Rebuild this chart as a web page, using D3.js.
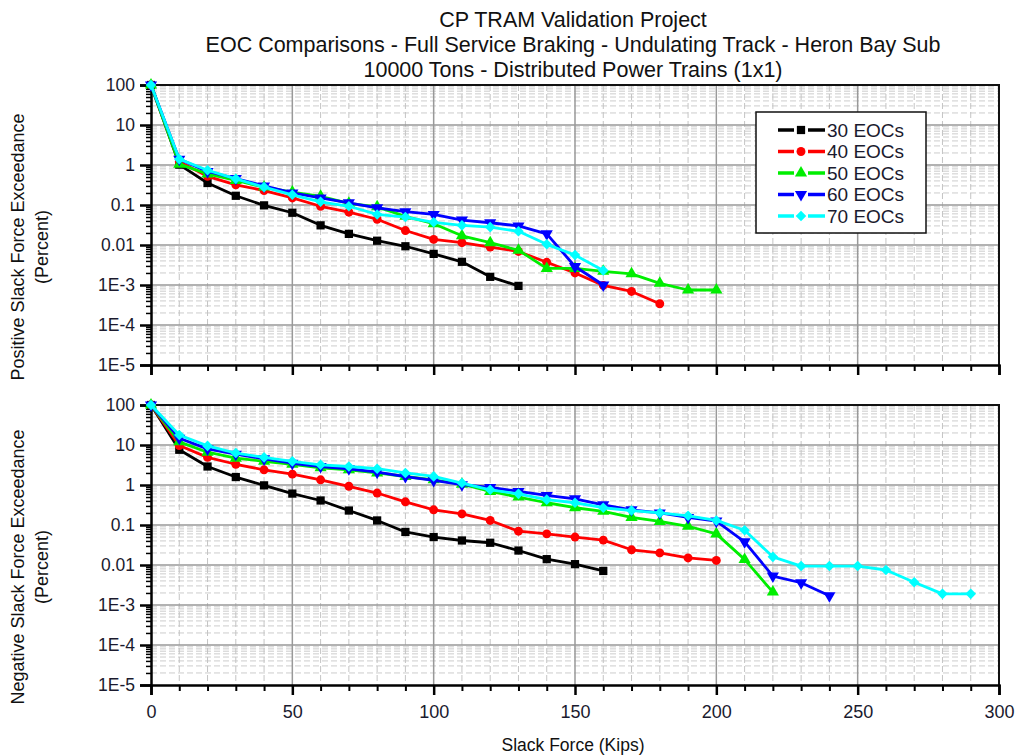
<!DOCTYPE html>
<html>
<head>
<meta charset="utf-8">
<script src="https://cdn.jsdelivr.net/npm/d3@7"></script>
<style>
  html, body { margin: 0; padding: 0; background: #fff; }
  svg { display: block; font-family: "Liberation Sans", Arial, sans-serif; }
</style>
</head>
<body>
<svg id="chart" width="1016" height="756"></svg>
<script>
// Slack force levels (kips) sampled every 10 kips
const kips = [0,10,20,30,40,50,60,70,80,90,100,110,120,130,140,150,160,170,180,190,200,210,220,230,240,250,260,270,280,290];

const seriesNames = ["30 EOCs", "40 EOCs", "50 EOCs", "60 EOCs", "70 EOCs"];
const seriesColors = ["#000000", "#ff0000", "#00ee00", "#0000ff", "#00ffff"];
const seriesSymbols = ["square", "circle", "triangle", "triangleDown", "diamond"];

// Positive slack force exceedance (percent)
const pos30 = [100, 1.02, 0.355, 0.17, 0.098, 0.064, 0.031, 0.019, 0.0128, 0.0093, 0.006, 0.0038, 0.0016, 0.00095];
const pos40 = [100, 1.2, 0.52, 0.32, 0.23, 0.15, 0.093, 0.066, 0.044, 0.023, 0.0138, 0.0114, 0.0089, 0.0069, 0.0037, 0.002, 0.00098, 0.00069, 0.00034];
const pos50 = [100, 1.05, 0.6, 0.41, 0.28, 0.21, 0.165, 0.11, 0.09, 0.052, 0.034, 0.017, 0.0114, 0.0074, 0.0026, 0.0026, 0.0022, 0.0019, 0.0011, 0.00075, 0.00075];
const pos60 = [100, 1.4, 0.69, 0.46, 0.30, 0.20, 0.15, 0.113, 0.085, 0.068, 0.058, 0.042, 0.036, 0.03, 0.019, 0.0029, 0.001];
const pos70 = [100, 1.4, 0.74, 0.45, 0.28, 0.18, 0.12, 0.093, 0.058, 0.05, 0.037, 0.031, 0.028, 0.022, 0.0104, 0.0056, 0.0023];

// Negative slack force exceedance (percent)
const neg30 = [100, 7.6, 2.9, 1.58, 0.98, 0.61, 0.41, 0.23, 0.13, 0.067, 0.05, 0.041, 0.036, 0.023, 0.014, 0.0105, 0.0071];
const neg40 = [100, 9.7, 4.9, 3.3, 2.4, 1.87, 1.35, 0.93, 0.63, 0.38, 0.24, 0.19, 0.13, 0.07, 0.06, 0.05, 0.042, 0.024, 0.02, 0.015, 0.013];
const neg50 = [100, 12, 6.6, 4.7, 3.9, 3.3, 2.7, 2.4, 2.0, 1.63, 1.35, 1.05, 0.69, 0.5, 0.36, 0.27, 0.22, 0.155, 0.123, 0.093, 0.06, 0.0138, 0.0021];
const neg60 = [100, 14.8, 8, 5.9, 4.5, 3.5, 2.9, 2.55, 2.1, 1.63, 1.3, 1.02, 0.87, 0.69, 0.55, 0.45, 0.32, 0.24, 0.2, 0.155, 0.125, 0.038, 0.0053, 0.0036, 0.0017];
const neg70 = [100, 17.8, 9.5, 6.3, 4.9, 3.9, 3.2, 2.9, 2.55, 2.0, 1.64, 1.12, 0.76, 0.6, 0.43, 0.36, 0.27, 0.23, 0.2, 0.17, 0.13, 0.074, 0.016, 0.0094, 0.0094, 0.0094, 0.0075, 0.0037, 0.0019, 0.0019];

const yTickValues = [100, 10, 1, 0.1, 0.01, 1e-3, 1e-4, 1e-5];
const yTickLabels = ["100", "10", "1", "0.1", "0.01", "1E-3", "1E-4", "1E-5"];
const xTickValues = [0, 50, 100, 150, 200, 250, 300];

const titleLines = [
  "CP TRAM Validation Project",
  "EOC Comparisons - Full Service Braking - Undulating Track - Heron Bay Sub",
  "10000 Tons - Distributed Power Trains (1x1)"
];

const svg = d3.select("#chart");
const left = 151, right = 999;
const textColor = "#1a1a2e";

const x = d3.scaleLinear().domain([0, 300]).range([left, right]);

// Title
svg.append("g").selectAll("text").data(titleLines).join("text")
  .attr("x", 573).attr("y", (d, i) => 27 + i * 25)
  .attr("text-anchor", "middle").attr("font-size", 21.5).attr("fill", "#111")
  .text(d => d);

// marker shapes; the diamond is a square turned 45 degrees
const symbolType = {
  square: d3.symbolSquare, circle: d3.symbolCircle, triangle: d3.symbolTriangle,
  triangleDown: d3.symbolTriangle, diamond: d3.symbolSquare
};
const symbolSize = { square: 68, circle: 62, triangle: 64, triangleDown: 64, diamond: 56 };
const symbolRotate = { triangleDown: 180, diamond: 45 };

function drawMarker(g, sym, color, cx, cy) {
  const rot = symbolRotate[sym] ? ` rotate(${symbolRotate[sym]})` : "";
  return g.append("path")
    .attr("d", d3.symbol().type(symbolType[sym]).size(symbolSize[sym])())
    .attr("fill", color)
    .attr("transform", `translate(${cx},${cy})` + rot);
}

function panel(top, bottom, seriesData, yTitle, showXLabels) {
  const y = d3.scaleLog().domain([1e-5, 100]).range([bottom, top]);
  const g = svg.append("g");

  // minor grid: horizontal (2..9 in each decade) and vertical every 10 kips
  const minorY = [];
  for (let e = -5; e < 2; e++) for (let m = 2; m <= 9; m++) minorY.push(m * Math.pow(10, e));
  const minorX = d3.range(10, 300, 10).filter(v => v % 50 !== 0);

  g.append("g").selectAll("line").data(minorY).join("line")
    .attr("x1", left).attr("x2", right)
    .attr("y1", d => y(d)).attr("y2", d => y(d))
    .attr("stroke", "#cccccc").attr("stroke-width", 1).attr("stroke-dasharray", "6,3");
  g.append("g").selectAll("line").data(minorX).join("line")
    .attr("x1", d => x(d)).attr("x2", d => x(d))
    .attr("y1", top).attr("y2", bottom)
    .attr("stroke", "#c4c4c4").attr("stroke-width", 1).attr("stroke-dasharray", "6,3");

  // major grid
  g.append("g").selectAll("line").data(yTickValues.slice(1, -1)).join("line")
    .attr("x1", left).attr("x2", right)
    .attr("y1", d => y(d)).attr("y2", d => y(d))
    .attr("stroke", "#999").attr("stroke-width", 1.5);
  g.append("g").selectAll("line").data(xTickValues.slice(1, -1)).join("line")
    .attr("x1", d => x(d)).attr("x2", d => x(d))
    .attr("y1", top).attr("y2", bottom)
    .attr("stroke", "#999").attr("stroke-width", 1.5);

  // frame (top and right)
  g.append("path")
    .attr("d", `M${left},${top}H${right}V${bottom}`)
    .attr("fill", "none").attr("stroke", "#111").attr("stroke-width", 2);

  // y axis: major and minor ticks
  const yAxis = d3.axisLeft(y).tickValues(yTickValues)
    .tickFormat((d, i) => yTickLabels[i]).tickSize(11).tickPadding(5);
  const ya = g.append("g").attr("transform", `translate(${left},0)`).call(yAxis);
  ya.select(".domain").attr("stroke-width", 2.5).attr("stroke", "#000");
  ya.selectAll(".tick line").attr("stroke-width", 2.5).attr("stroke", "#000");
  ya.selectAll(".tick text").attr("font-size", 17.5).attr("fill", textColor)
    .attr("font-family", "Liberation Sans, Arial, sans-serif");
  g.append("g").attr("transform", `translate(${left},0)`)
    .call(d3.axisLeft(y).tickValues(minorY).tickSize(5).tickFormat(""))
    .call(s => s.select(".domain").remove())
    .selectAll(".tick line").attr("stroke", "#000").attr("stroke-width", 1.5);

  // x axis: major and minor ticks
  const xAxis = d3.axisBottom(x).tickValues(xTickValues).tickSize(10).tickPadding(10)
    .tickFormat(showXLabels ? d3.format("d") : "");
  const xa = g.append("g").attr("transform", `translate(0,${bottom})`).call(xAxis);
  xa.select(".domain").attr("stroke-width", 2.5).attr("stroke", "#000");
  xa.selectAll(".tick line").attr("stroke-width", 2.5).attr("stroke", "#000");
  xa.selectAll(".tick text").attr("font-size", 18).attr("fill", textColor)
    .attr("font-family", "Liberation Sans, Arial, sans-serif");
  g.append("g").attr("transform", `translate(0,${bottom})`)
    .call(d3.axisBottom(x).tickValues(minorX).tickSize(6).tickFormat(""))
    .call(s => s.select(".domain").remove())
    .selectAll(".tick line").attr("stroke", "#000").attr("stroke-width", 2);

  // y axis title
  const cy = (top + bottom) / 2 + 22;
  const yt = g.append("text").attr("transform", `translate(24,${cy}) rotate(-90)`)
    .attr("text-anchor", "middle").attr("font-size", 18).attr("fill", "#111");
  yt.append("tspan").attr("x", 0).attr("dy", 0).text(yTitle);
  yt.append("tspan").attr("x", 0).attr("dy", 24).text("(Percent)");

  // series lines and markers
  const line = d3.line().x(d => x(d[0])).y(d => y(d[1]));
  seriesData.forEach((vals, s) => {
    const pts = vals.map((v, i) => [kips[i], v]);
    const sg = g.append("g");
    sg.append("path").datum(pts).attr("d", line)
      .attr("fill", "none").attr("stroke", seriesColors[s]).attr("stroke-width", 2.8)
      .attr("stroke-linejoin", "round");
    pts.forEach(p => drawMarker(sg, seriesSymbols[s], seriesColors[s], x(p[0]), y(p[1])));
  });
  return y;
}

panel(85, 365, [pos30, pos40, pos50, pos60, pos70], "Positive Slack Force Exceedance", false);
panel(405, 685, [neg30, neg40, neg50, neg60, neg70], "Negative Slack Force Exceedance", true);

// x axis title
svg.append("text").attr("x", 573).attr("y", 751).attr("text-anchor", "middle")
  .attr("font-size", 17.5).attr("fill", "#111").text("Slack Force (Kips)");

// legend
const lg = svg.append("g");
lg.append("rect").attr("x", 756).attr("y", 112).attr("width", 170).attr("height", 121)
  .attr("fill", "#fff").attr("stroke", "#111").attr("stroke-width", 1.5);
seriesNames.forEach((name, i) => {
  const ly = 130 + i * 21.5;
  lg.append("line").attr("x1", 778).attr("x2", 825).attr("y1", ly).attr("y2", ly)
    .attr("stroke", seriesColors[i]).attr("stroke-width", 3.5);
  lg.append("rect").attr("x", 794).attr("y", ly - 3).attr("width", 14).attr("height", 6).attr("fill", "#fff");
  drawMarker(lg, seriesSymbols[i], seriesColors[i], 801, ly);
  lg.append("text").attr("x", 827).attr("y", ly + 6.5).attr("font-size", 19).attr("fill", textColor).text(name);
});
</script>
</body>
</html>
